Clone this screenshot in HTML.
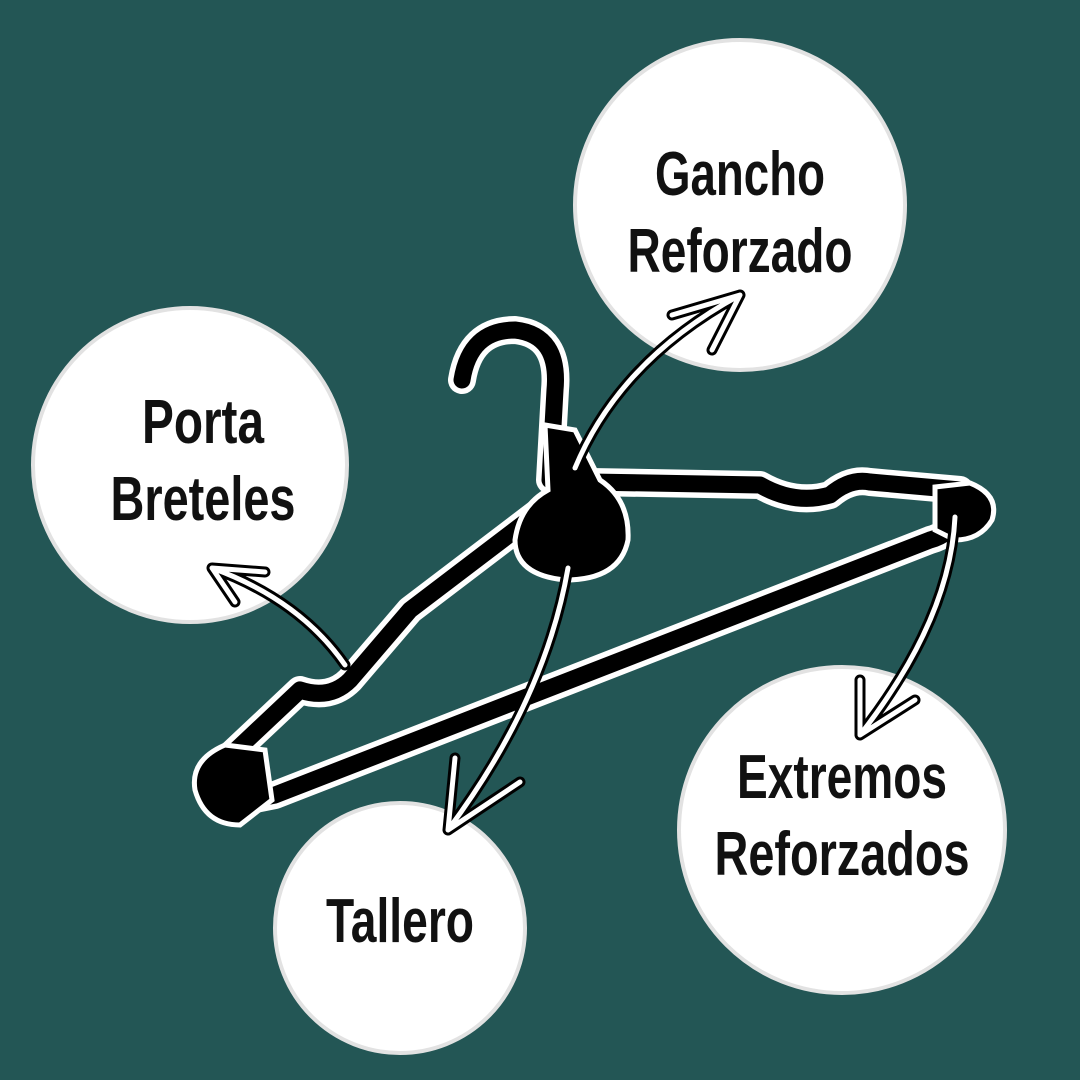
<!DOCTYPE html>
<html><head><meta charset="utf-8"><style>
html,body{margin:0;padding:0;background:#235655;}
svg{display:block}
text{font-family:"Liberation Sans Narrow","Liberation Sans",sans-serif;font-weight:bold;fill:#111;text-anchor:middle}
</style></head><body>
<svg width="1080" height="1080" viewBox="0 0 1080 1080">
<rect width="1080" height="1080" fill="#235655"/>
<g fill="#fff" stroke="#e2e2e2" stroke-width="4">
<circle cx="740" cy="205" r="165"/>
<circle cx="190" cy="465" r="157"/>
<circle cx="400" cy="928" r="125"/>
<circle cx="842" cy="830" r="163"/>
</g>
<g font-size="62">
<text x="740" y="195" textLength="170" lengthAdjust="spacingAndGlyphs">Gancho</text>
<text x="740" y="272" textLength="225" lengthAdjust="spacingAndGlyphs">Reforzado</text>
<text x="203" y="443" textLength="122" lengthAdjust="spacingAndGlyphs">Porta</text>
<text x="203" y="520" textLength="185" lengthAdjust="spacingAndGlyphs">Breteles</text>
<text x="400" y="942" textLength="148" lengthAdjust="spacingAndGlyphs">Tallero</text>
<text x="842" y="798" textLength="210" lengthAdjust="spacingAndGlyphs">Extremos</text>
<text x="842" y="875" textLength="255" lengthAdjust="spacingAndGlyphs">Reforzados</text>
</g>
<g fill="none" stroke-linecap="round" stroke-linejoin="round">
<g stroke="#fff" stroke-width="28">
<path d="M215,770 L300,690 Q330,700 350,680 L410,610 L548,505"/>
<path d="M462,380 Q470,330 515,330 Q560,335 555,390 L550,480"/>
<path d="M590,482 L760,485 Q795,505 830,495 Q850,478 870,482 L960,490"/>
<path d="M965,512 Q950,535 930,540 L275,795 L225,805"/>
</g>
<g stroke="#000" stroke-width="17">
<path d="M215,770 L300,690 Q330,700 350,680 L410,610 L548,505"/>
<path d="M462,380 Q470,330 515,330 Q560,335 555,390 L550,480"/>
<path d="M590,482 L760,485 Q795,505 830,495 Q850,478 870,482 L960,490"/>
<path d="M965,512 Q950,535 930,540 L275,795 L225,805"/>
</g>
</g>
<path d="M195,790 Q190,760 225,745 L265,750 L272,800 L240,825 Q205,825 195,790Z" fill="#000" stroke="#fff" stroke-width="5"/>
<path d="M935,487 L970,483 Q1000,495 992,520 Q980,540 955,540 L935,530Z" fill="#000" stroke="#fff" stroke-width="5"/>
<path d="M545,425 L575,430 L600,480 Q630,500 628,540 Q620,580 565,580 Q515,575 515,540 Q520,505 548,490Z" fill="#000" stroke="#fff" stroke-width="5"/>
<g fill="none" stroke-linecap="round" stroke-linejoin="round">
<g stroke="#000" stroke-width="11">
<path d="M575,468 Q620,360 740,295 M672,315 L740,295 L712,350"/>
<path d="M345,665 Q300,600 212,568 M265,572 L212,568 L235,602"/>
<path d="M568,568 Q545,700 448,830 M455,758 L448,830 L520,782"/>
<path d="M955,517 Q950,620 860,735 M860,680 L860,735 L915,700"/>
</g>
<g stroke="#fff" stroke-width="5">
<path d="M575,468 Q620,360 740,295 M672,315 L740,295 L712,350"/>
<path d="M345,665 Q300,600 212,568 M265,572 L212,568 L235,602"/>
<path d="M568,568 Q545,700 448,830 M455,758 L448,830 L520,782"/>
<path d="M955,517 Q950,620 860,735 M860,680 L860,735 L915,700"/>
</g>
</g>
</svg>
</body></html>
